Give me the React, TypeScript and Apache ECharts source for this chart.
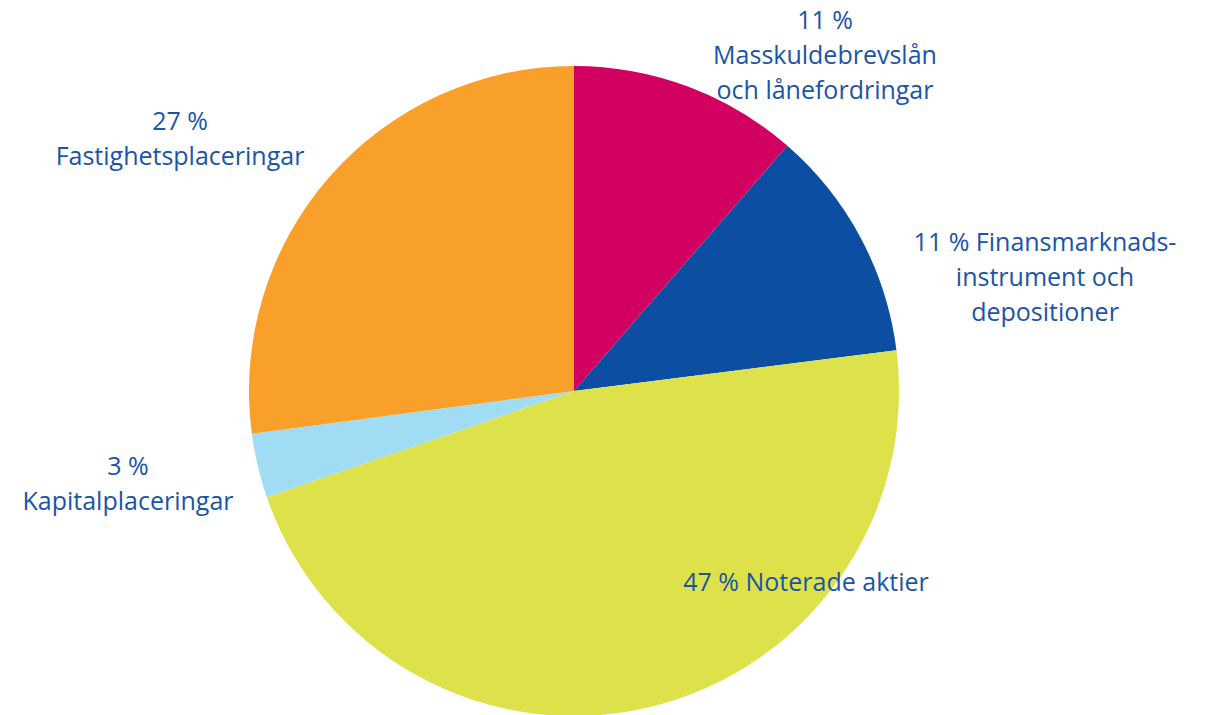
import React, { useEffect, useRef } from "react";
import * as echarts from "echarts";

const categories = [
  "Masskuldebrevslån och lånefordringar",
  "Finansmarknadsinstrument och depositioner",
  "Noterade aktier",
  "Kapitalplaceringar",
  "Fastighetsplaceringar",
];
const values = [11.4, 11.6, 46.7, 3.2, 27.1];
const percentLabels = ["11 %", "11 %", "47 %", "3 %", "27 %"];
const labelTexts = [
  "11 %\nMasskuldebrevslån\noch lånefordringar",
  "11 % Finansmarknads-\ninstrument och\ndepositioner",
  "47 % Noterade aktier",
  "3 %\nKapitalplaceringar",
  "27 %\nFastighetsplaceringar",
];
const colors = ["#D20060", "#0B4EA2", "#DDE24A", "#A0DDF5", "#F8A02A"];
const labelPos = [
  [825, 54],
  [1045, 276],
  [806, 581],
  [128, 482],
  [180, 137],
];

export default function App() {
  const ref = useRef<HTMLDivElement>(null);
  useEffect(() => {
    if (!ref.current) return;
    const chart = echarts.init(ref.current, null, { renderer: "svg" });
    chart.setOption({
      animation: false,
      backgroundColor: "#ffffff",
      series: [
        {
          type: "pie",
          center: [574, 391],
          radius: [0, 325],
          startAngle: 90,
          clockwise: true,
          avoidLabelOverlap: false,
          data: categories.map((c, i) => ({
            name: c,
            value: values[i],
            itemStyle: { color: colors[i] },
          })),
          label: {
            show: true,
            position: "outside",
            formatter: (p: any) => labelTexts[p.dataIndex],
            color: "#1A55A5",
            fontSize: 25,
            lineHeight: 35,
            fontFamily: "Open Sans",
            align: "center",
          },
          labelLine: { show: false },
          labelLayout: (params: any) => ({
            x: labelPos[params.dataIndex][0],
            y: labelPos[params.dataIndex][1],
            align: "center",
            verticalAlign: "middle",
          }),
          emphasis: { disabled: true },
        },
      ],
    });
    return () => chart.dispose();
  }, []);
  return (
    <div
      ref={ref}
      style={{ position: "absolute", left: 0, top: 0, width: 1207, height: 715 }}
    />
  );
}
